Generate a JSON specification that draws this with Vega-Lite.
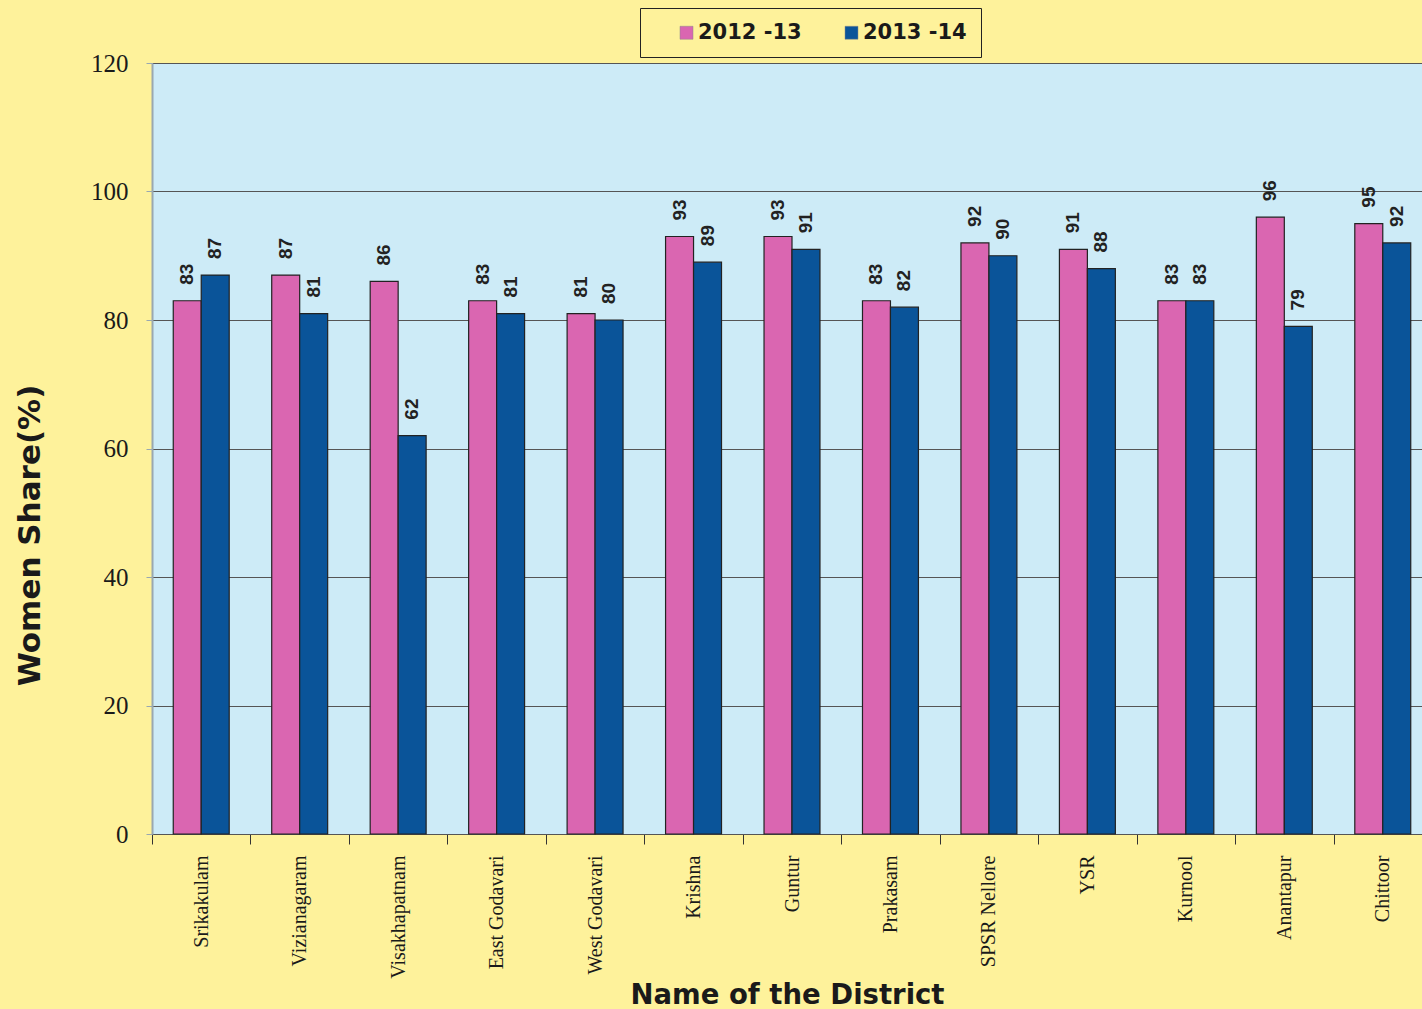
{
  "$schema": "https://vega.github.io/schema/vega-lite/v6.json",
  "autosize": {"type": "none"},
  "padding": {"left": 152, "top": 63, "right": 0, "bottom": 175},
  "width": 1270,
  "height": 771,
  "background": "#FEF29B",
  "config": {
    "view": {"fill": "#CDEBF7", "stroke": null}
  },
  "data": {
    "values": [
      {"district": "Srikakulam", "year": "2012 -13", "share": 83},
      {"district": "Srikakulam", "year": "2013 -14", "share": 87},
      {"district": "Vizianagaram", "year": "2012 -13", "share": 87},
      {"district": "Vizianagaram", "year": "2013 -14", "share": 81},
      {"district": "Visakhapatnam", "year": "2012 -13", "share": 86},
      {"district": "Visakhapatnam", "year": "2013 -14", "share": 62},
      {"district": "East Godavari", "year": "2012 -13", "share": 83},
      {"district": "East Godavari", "year": "2013 -14", "share": 81},
      {"district": "West Godavari", "year": "2012 -13", "share": 81},
      {"district": "West Godavari", "year": "2013 -14", "share": 80},
      {"district": "Krishna", "year": "2012 -13", "share": 93},
      {"district": "Krishna", "year": "2013 -14", "share": 89},
      {"district": "Guntur", "year": "2012 -13", "share": 93},
      {"district": "Guntur", "year": "2013 -14", "share": 91},
      {"district": "Prakasam", "year": "2012 -13", "share": 83},
      {"district": "Prakasam", "year": "2013 -14", "share": 82},
      {"district": "SPSR Nellore", "year": "2012 -13", "share": 92},
      {"district": "SPSR Nellore", "year": "2013 -14", "share": 90},
      {"district": "YSR", "year": "2012 -13", "share": 91},
      {"district": "YSR", "year": "2013 -14", "share": 88},
      {"district": "Kurnool", "year": "2012 -13", "share": 83},
      {"district": "Kurnool", "year": "2013 -14", "share": 83},
      {"district": "Anantapur", "year": "2012 -13", "share": 96},
      {"district": "Anantapur", "year": "2013 -14", "share": 79},
      {"district": "Chittoor", "year": "2012 -13", "share": 95},
      {"district": "Chittoor", "year": "2013 -14", "share": 92}
    ]
  },
  "encoding": {
    "x": {
      "field": "district",
      "type": "nominal",
      "sort": null,
      "scale": {"paddingInner": 0, "paddingOuter": 0, "range": [0, 1280]},
      "axis": {
        "title": "Name of the District",
        "titleFont": "DejaVu Sans",
        "titleFontWeight": "bold",
        "titleFontSize": 27.5,
        "titleColor": "#1a1a1a",
        "titleBaseline": "alphabetic",
        "titleY": 169,
        "titleX": 635,
        "tickBand": "extent",
        "tickSize": 10,
        "tickColor": "#333333",
        "domainColor": "#555555",
        "labelAngle": 270,
        "labelFont": "Liberation Serif",
        "labelFontSize": 20,
        "labelColor": "#1a1a1a",
        "labelPadding": 11,
        "labelLimit": 200
      }
    },
    "xOffset": {
      "field": "year",
      "type": "nominal",
      "scale": {"paddingInner": 0, "paddingOuter": 0.76}
    },
    "y": {
      "field": "share",
      "type": "quantitative",
      "scale": {"domain": [0, 120], "nice": false},
      "axis": {
        "values": [0, 20, 40, 60, 80, 100, 120],
        "title": "Women Share(%)",
        "titleFont": "DejaVu Sans",
        "titleFontWeight": "bold",
        "titleFontSize": 31,
        "titleColor": "#1a1a1a",
        "titleAngle": 270,
        "titleAlign": "center",
        "titleBaseline": "middle",
        "titleX": -122,
        "titleY": 472,
        "grid": true,
        "gridColor": "#555555",
        "gridOpacity": 1,
        "domainColor": "#99A8B0",
        "domainWidth": 2,
        "tickColor": "#99A8B0",
        "tickSize": 6,
        "labelFont": "Liberation Serif",
        "labelFontSize": 25,
        "labelColor": "#1a1a1a",
        "labelPadding": 18
      }
    }
  },
  "layer": [
    {
      "mark": {"type": "bar", "stroke": "#222222", "strokeWidth": 1.2},
      "encoding": {
        "color": {
          "field": "year",
          "type": "nominal",
          "scale": {"domain": ["2012 -13", "2013 -14"], "range": ["#DA66B1", "#0A5499"]},
          "legend": {
            "title": null,
            "orient": "none",
            "direction": "horizontal",
            "legendX": 488,
            "legendY": -55,
            "fillColor": "#FEF29B",
            "strokeColor": "#222222",
            "padding": 14,
            "symbolOffset": 22,
            "symbolType": "square",
            "symbolSize": 169,
            "symbolStrokeColor": "#888888",
            "symbolStrokeWidth": 0.5,
            "labelFont": "DejaVu Sans",
            "labelFontWeight": "bold",
            "labelFontSize": 21,
            "labelColor": "#1a1a1a",
            "labelOffset": 1,
            "columnPadding": 17
          }
        }
      }
    },
    {
      "mark": {
        "type": "text",
        "angle": 270,
        "align": "left",
        "baseline": "middle",
        "dx": 16,
        "font": "Liberation Sans",
        "fontWeight": "bold",
        "fontSize": 19,
        "color": "#222222"
      },
      "encoding": {
        "text": {"field": "share", "type": "quantitative"}
      }
    }
  ]
}
